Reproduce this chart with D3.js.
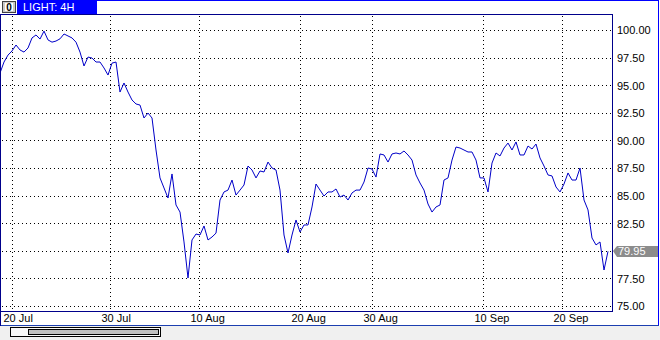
<!DOCTYPE html>
<html>
<head>
<meta charset="utf-8">
<script src="https://cdn.jsdelivr.net/npm/d3@7"></script>
<style>
  html, body { margin: 0; padding: 0; background: #ffffff; }
</style>
</head>
<body>
<script>
// 4H closes, one value every 2 bars
const prices = [
  96.1, 97.1, 97.73, 98.1, 98.64, 98.19, 98.0, 98.37, 99.28, 99.55,
  99.18, 99.9, 99.1, 98.9, 99.0, 99.2, 99.64, 99.46, 99.28, 98.9,
  98.0, 96.74, 97.55, 97.46, 97.1, 97.1, 96.56, 95.92, 97.0, 97.1,
  94.38, 95.2, 94.38, 93.66, 93.3, 93.2, 92.03, 92.48, 92.03, 89.13,
  86.6, 85.69, 84.78, 86.96, 84.15, 83.51, 80.8, 77.54, 80.98, 81.52,
  81.43, 82.25, 80.98, 81.25, 81.6, 84.6, 85.33, 85.5, 86.41, 85.05,
  85.5, 85.96, 87.68, 87.32, 86.6, 87.23, 87.14, 88.04, 87.5, 87.32,
  85.5, 81.43, 79.8, 81.43, 82.79, 81.7, 82.34, 82.34, 83.97, 86.05,
  85.5, 84.96, 85.33, 85.33, 85.6, 84.87, 85.05, 84.6, 85.24, 85.5,
  85.5, 86.23, 87.5, 87.41, 86.68, 88.77, 88.68, 88.04, 88.77, 88.86,
  88.77, 89.04, 88.68, 88.22, 86.87, 86.14, 85.5, 84.24, 83.51, 83.97,
  84.15, 86.41, 86.6, 88.22, 89.4, 89.31, 89.13, 88.95, 88.95, 88.22,
  86.6, 86.6, 85.33, 87.95, 88.86, 88.59, 89.31, 89.76, 89.13, 89.86,
  88.68, 88.68, 89.49, 89.22, 89.67, 88.41, 87.68, 86.87, 86.78, 85.78,
  85.33, 86.05, 87.05, 86.41, 86.41, 87.5, 84.6, 83.7, 81.16, 80.53,
  80.8, 78.26, 79.95
];
const barStep = 2;
const totalBars = 306;
const dateBars = [6, 55, 99.5, 150, 186, 241.5, 281];
const dateLabels = ['20 Jul', '30 Jul', '10 Aug', '20 Aug', '30 Aug', '10 Sep', '20 Sep'];
const priceTicks = [75, 77.5, 80, 82.5, 85, 87.5, 90, 92.5, 95, 97.5, 100];
const symbolTitle = 'LIGHT: 4H';
const lastPrice = 79.95;

const W = 660, H = 340;
const plot = { left: 0, top: 14, right: 612, bottom: 311 };
const font = '"Liberation Sans", Arial, sans-serif';

const svg = d3.select('body').append('svg')
  .attr('width', W)
  .attr('height', H)
  .style('display', 'block');

const x = d3.scaleLinear().domain([0, totalBars]).range([0, 612]);
const y = d3.scaleLinear().domain([75, 100]).range([306, 30]);

// background + bottom grey strip
svg.append('rect').attr('width', W).attr('height', H).attr('fill', '#ffffff');
svg.append('rect').attr('x', 0).attr('y', 326).attr('width', W).attr('height', 14).attr('fill', '#f0f0f0');

// grid
const grid = svg.append('g').attr('stroke', '#000').attr('stroke-dasharray', '1,3').attr('shape-rendering', 'crispEdges');
grid.selectAll('line.h').data(priceTicks).join('line')
  .attr('class', 'h')
  .attr('x1', 2).attr('x2', plot.right)
  .attr('y1', d => Math.round(y(d)) + 0.5).attr('y2', d => Math.round(y(d)) + 0.5);
grid.selectAll('line.v').data(dateBars).join('line')
  .attr('class', 'v')
  .attr('x1', d => Math.round(x(d)) + 0.5).attr('x2', d => Math.round(x(d)) + 0.5)
  .attr('y1', plot.top + 2).attr('y2', plot.bottom);

// price line
const line = d3.line()
  .x((d, i) => x(i * barStep))
  .y(d => y(d));
svg.append('path')
  .datum(prices)
  .attr('d', line)
  .attr('fill', 'none')
  .attr('stroke', '#0000c8')
  .attr('stroke-width', 1);

// frames
const frame = svg.append('g').attr('fill', 'none').attr('shape-rendering', 'crispEdges');
frame.append('rect')
  .attr('x', 0.5).attr('y', plot.top + 0.5)
  .attr('width', plot.right).attr('height', plot.bottom - plot.top)
  .attr('stroke', '#00008b');
frame.append('line').attr('x1', 0).attr('x2', 659).attr('y1', 0.5).attr('y2', 0.5).attr('stroke', '#0000ff');
frame.append('line').attr('x1', 658.5).attr('x2', 658.5).attr('y1', 0).attr('y2', 326).attr('stroke', '#0000ff');
frame.append('line').attr('x1', 0).attr('x2', 659).attr('y1', 325.5).attr('y2', 325.5).attr('stroke', '#1c3fb0');
frame.append('line').attr('x1', 0.5).attr('x2', 0.5).attr('y1', 0).attr('y2', 326).attr('stroke', '#00008b');

// right price axis
const yAxis = svg.append('g')
  .attr('transform', `translate(${plot.right + 5},0)`)
  .call(d3.axisRight(y).tickValues(priceTicks).tickSize(0).tickPadding(0).tickFormat(d => d.toFixed(2)));
yAxis.select('.domain').remove();
yAxis.selectAll('text')
  .attr('font-family', font)
  .attr('font-size', 11)
  .attr('fill', '#000')
  .attr('dy', '0.35em');

// bottom date axis
const xAxis = svg.append('g')
  .attr('transform', `translate(0,${plot.bottom})`)
  .call(d3.axisBottom(x).tickValues(dateBars).tickSize(0).tickPadding(0).tickFormat((d, i) => dateLabels[i]));
xAxis.select('.domain').remove();
xAxis.selectAll('text')
  .attr('font-family', font)
  .attr('font-size', 11)
  .attr('fill', '#000')
  .attr('text-anchor', 'start')
  .attr('x', -9)
  .attr('dy', '0')
  .attr('y', 11);

// last price marker
const ly = Math.round(y(lastPrice));
svg.append('path')
  .attr('d', `M613,${ly} L617,${ly - 5} L658,${ly - 5} L658,${ly + 6} L617,${ly + 6} Z`)
  .attr('fill', '#8c8c8c');
svg.append('text')
  .attr('x', 618).attr('y', ly + 4)
  .attr('font-family', font).attr('font-size', 11)
  .attr('fill', '#ffffff')
  .text(lastPrice.toFixed(2));

// title tab
svg.append('rect').attr('x', 17).attr('y', 0).attr('width', 80).attr('height', 14).attr('fill', '#0000ff');
svg.append('text')
  .attr('x', 23).attr('y', 11)
  .attr('font-family', font).attr('font-size', 11)
  .attr('fill', '#ffffff')
  .text(symbolTitle);

// small button at top-left
svg.append('rect').attr('x', 0).attr('y', 0).attr('width', 17).attr('height', 14).attr('fill', '#ffffff');
svg.append('rect').attr('x', 2.5).attr('y', 1.5).attr('width', 13).attr('height', 11)
  .attr('fill', '#c8c8c8').attr('stroke', '#404040').attr('shape-rendering', 'crispEdges');
svg.append('rect').attr('x', 5).attr('y', 3).attr('width', 8).attr('height', 8).attr('fill', '#ffffff');
svg.append('text')
  .attr('x', 9).attr('y', 11)
  .attr('text-anchor', 'middle')
  .attr('font-family', font).attr('font-size', 10).attr('font-weight', 'bold')
  .attr('fill', '#000')
  .text('0');

// scrollbar
svg.append('rect').attr('x', 10.5).attr('y', 327.5).attr('width', 150).attr('height', 9)
  .attr('fill', '#f8f8f8').attr('stroke', '#000').attr('shape-rendering', 'crispEdges');
svg.append('rect').attr('x', 28.5).attr('y', 329.5).attr('width', 130).attr('height', 5)
  .attr('fill', '#c0c0c0').attr('stroke', '#000').attr('shape-rendering', 'crispEdges');
</script>
</body>
</html>
